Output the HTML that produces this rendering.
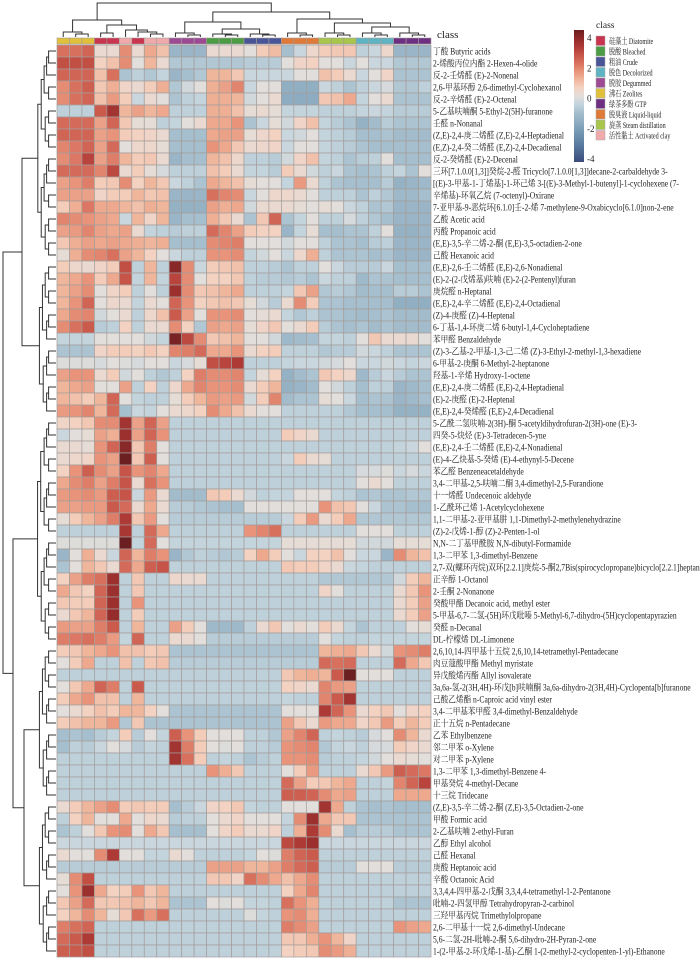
<!DOCTYPE html>
<html><head><meta charset="utf-8">
<style>
html,body{margin:0;padding:0;background:#fff;width:700px;height:962px;overflow:hidden}
svg{display:block}
text{font-family:"Liberation Serif","Noto Serif CJK SC",serif;fill:#222}
</style></head>
<body>
<svg id="chart" width="700" height="962" viewBox="0 0 700 962">
<g id="coldendro" stroke="#333" stroke-width="1" fill="none"></g>
<g id="rowdendro" stroke="#333" stroke-width="1" fill="none"></g>
<g id="classbar"></g>
<g id="cells"></g>
<g id="rowlabels"></g>
<text x="437" y="38" font-size="11">class</text>
<g id="legend"></g>
</svg>
<script>
const rowLabels = [
"丁酸 Butyric acids","2-烯酸丙位内酯 2-Hexen-4-olide","反-2-壬烯醛 (E)-2-Nonenal","2,6-甲基环醇 2,6-dimethyl-Cyclohexanol","反-2-辛烯醛 (E)-2-Octenal","5-乙基呋喃酮 5-Ethyl-2(5H)-furanone","壬醛 n-Nonanal","(Z,E)-2,4-庚二烯醛 (Z,E)-2,4-Heptadienal","(E,Z)-2,4-癸二烯醛 (E,Z)-2,4-Decadienal","反-2-癸烯醛 (E)-2-Decenal",
"三环[7.1.0.0[1,3]]癸烷-2-醛 Tricyclo[7.1.0.0[1,3]]decane-2-carbaldehyde 3-","[(E)-3-甲基-1-丁烯基]-1-环己烯 3-[(E)-3-Methyl-1-butenyl]-1-cyclohexene (7-","辛烯基)-环氧乙烷 (7-octenyl)-Oxirane","7-亚甲基-9-恶烷环[6.1.0]壬-2-烯 7-methylene-9-Oxabicyclo[6.1.0]non-2-ene","乙酸 Acetic acid","丙酸 Propanoic acid","(E,E)-3,5-辛二烯-2-酮 (E,E)-3,5-octadien-2-one","己酸 Hexanoic acid","(E,E)-2,6-壬二烯醛 (E,E)-2,6-Nonadienal","(E)-2-(2-戊烯基)呋喃 (E)-2-(2-Pentenyl)furan",
"庚烷醛 n-Heptanal","(E,E)-2,4-辛二烯醛 (E,E)-2,4-Octadienal","(Z)-4-庚醛 (Z)-4-Heptenal","6-丁基-1,4-环庚二烯 6-butyl-1,4-Cycloheptadiene","苯甲醛 Benzaldehyde","(Z)-3-乙基-2-甲基-1,3-己二烯 (Z)-3-Ethyl-2-methyl-1,3-hexadiene","6-甲基-2-庚酮 6-Methyl-2-heptanone","羟基-1-辛烯 Hydroxy-1-octene","(E,E)-2,4-庚二烯醛 (E,E)-2,4-Heptadienal","(E)-2-庚醛 (E)-2-Heptenal",
"(E,E)-2,4-癸烯醛 (E,E)-2,4-Decadienal","5-乙酰二氢呋喃-2(3H)-酮 5-acetyldihydrofuran-2(3H)-one (E)-3-","四癸-5-炔烃 (E)-3-Tetradecen-5-yne","(E,E)-2,4-壬二烯醛 (E,E)-2,4-Nonadienal","(E)-4-乙炔基-5-癸烯 (E)-4-ethynyl-5-Decene","苯乙醛 Benzeneacetaldehyde","3,4-二甲基-2,5-呋喃二酮 3,4-dimethyl-2,5-Furandione","十一烯醛 Undecenoic aldehyde","1-乙酰环己烯 1-Acetylcyclohexene","1,1-二甲基-2-亚甲基肼 1,1-Dimethyl-2-methylenehydrazine",
"(Z)-2-戊烯-1-醇 (Z)-2-Penten-1-ol","N,N-二丁基甲酰胺 N,N-dibutyl-Formamide","1,3-二甲苯 1,3-dimethyl-Benzene","2,7-双(螺环丙烷)双环[2.2.1]庚烷-5-酮2,7Bis(spirocyclopropane)bicyclo[2.2.1]heptan-5-","正辛醇 1-Octanol","2-壬酮 2-Nonanone","癸酸甲酯 Decanoic acid, methyl ester","5-甲基-6,7-二氢-(5H)环戊吡嗪 5-Methyl-6,7-dihydro-(5H)cyclopentapyrazien","癸醛 n-Decanal","DL-柠檬烯 DL-Limonene",
"2,6,10,14-四甲基十五烷 2,6,10,14-tetramethyl-Pentadecane","肉豆蔻酸甲酯 Methyl myristate","异戊酸烯丙酯 Allyl isovalerate","3a,6a-氢-2(3H,4H)-环戊[b]呋喃酮 3a,6a-dihydro-2(3H,4H)-Cyclopenta[b]furanone","己酸乙烯酯 n-Caproic acid vinyl ester","3,4-二甲基苯甲醛 3,4-dimethyl-Benzaldehyde","正十五烷 n-Pentadecane","乙苯 Ethylbenzene","邻二甲苯 o-Xylene","对二甲苯 p-Xylene",
"1,3-二甲苯 1,3-dimethyl-Benzene 4-","甲基癸烷 4-methyl-Decane","十三烷 Tridecane","(Z,E)-3,5-辛二烯-2-酮 (Z,E)-3,5-Octadien-2-one","甲酸 Formic acid","2-乙基呋喃 2-ethyl-Furan","乙醇 Ethyl alcohol","己醛 Hexanal","庚酸 Heptanoic acid","辛酸 Octanoic Acid",
"3,3,4,4-四甲基-2-戊酮 3,3,4,4-tetramethyl-1-2-Pentanone","吡喃-2-四氢甲醇 Tetrahydropyran-2-carbinol","三羟甲基丙烷 Trimethylolpropane","2,6-二甲基十一烷 2,6-dimethyl-Undecane","5,6-二氢-2H-吡喃-2-酮 5,6-dihydro-2H-Pyran-2-one","1-(2-甲基-2-环戊烯-1-基)-乙酮 1-(2-methyl-2-cyclopenten-1-yl)-Ethanone"];

const colClasses = ["Zeolites","Zeolites","Zeolites","Diatomite","Diatomite","Activated","Diatomite","Activated","Activated","Degummed","Degummed","Degummed","Bleached","Bleached","Bleached","Crude","Crude","Crude","Liquid","Liquid","Liquid","Steam","Steam","Steam","Decolorized","Decolorized","Decolorized","GTP","GTP","GTP"];

const classNames = ["硅藻土 Diatomite","脱酸 Bleached","粗油 Crude","脱色 Decolorized","脱胶 Degummed","沸石 Zeolites","绿茶多酚 GTP","脱臭液 Liquid-liquid","旋蒸 Steam distillation","活性黏土 Activated clay"];
const classKeys = ["Diatomite","Bleached","Crude","Decolorized","Degummed","Zeolites","GTP","Liquid","Steam","Activated"];
const classColors = {Diatomite:"#c9344f",Bleached:"#4c9b45",Crude:"#4a5597",Decolorized:"#5fb4c4",Degummed:"#9c4a94",Zeolites:"#e1c13c",GTP:"#6c2f82",Liquid:"#e07a39",Steam:"#a8c54c",Activated:"#f1aaac"};

const colorTicks = [4,2,0,-2,-4];

const values = [
[2,2,2.2,0.2,0.2,1.6,0.2,1.2,0.8,-1.3,-1.3,-1.3,0.2,0.2,0.2,0,0.6,0.9,-1,-0.4,0.3,0.6,0.7,0.7,-0.6,-0.4,0.3,-1.3,-1.3,-1.3],
[2.6,2.6,2.6,0.5,0.8,1.6,0,1,0.2,-0.8,-0.8,-0.8,-0.8,-0.8,-0.8,-0.7,-0.7,-0.7,0,0.4,0.5,0,0,-0.4,0,-0.4,-0.4,-0.8,-0.8,-0.8],
[2.2,2.2,2.2,0.8,2,-0.9,-0.6,-0.8,-0.5,-1.3,-1,-0.8,1,1,0.7,-0.4,-0.4,-0.4,-0.4,0,0,0.8,0.6,0.2,-0.4,0,0.4,-0.9,-0.9,-0.9],
[1.6,2,2.3,0.7,1.1,0.4,0.2,0.6,1.1,-0.8,-0.3,0,1.1,1.3,1.7,-0.4,0,0,-1.5,-1.5,-1.5,-0.4,-0.6,-0.9,-0.6,-0.4,-0.2,-0.8,-0.8,-0.6],
[1.6,2,2.2,0.8,1.4,0.6,-0.4,0.2,0,-0.9,-0.6,-0.5,1.1,1.1,1,-0.3,0,0.2,-1.6,-1.6,-1.6,0.7,0.8,1.2,-0.5,0,0.2,-0.9,-0.9,-0.9],
[-0.6,-0.6,-0.6,2.4,3.2,1,1.3,1,1.2,-0.6,-0.6,-0.6,1.1,1.1,0.8,0.1,0.2,0.1,-0.5,-0.5,-0.5,-0.6,-0.6,-0.6,-0.5,-0.4,-0.5,-0.7,-0.7,-0.7],
[2.1,2.1,2.1,1.3,2.2,0.7,0.1,0.1,-0.6,-0.5,0,0.2,1.2,1.2,1.5,-0.9,-0.4,0.1,-0.3,0.4,0.8,-0.5,-0.7,-0.9,-1.4,-1.1,-0.7,-0.9,-0.9,-0.9],
[2.2,2.2,2.2,1.3,1.5,0.6,0.5,0.4,0.2,-1,-1,-1,1.2,1.3,1.3,0.1,0.3,0.5,-0.4,-0.3,0,-0.5,-0.6,-0.7,-1,-1,-0.9,-1.1,-1.1,-1.1],
[1.7,1.9,2.2,1.3,2.1,0,0.3,0.3,0.1,-1,-1,-1,1.5,1.2,0.7,0.2,0.3,0.4,-0.4,0,0,-0.5,-0.6,-0.7,-0.9,-1,-1,-1,-1,-1],
[1.6,1.9,2.8,1.3,1.8,1,0.6,0.7,0.2,-1.3,-1,-1,1,0.8,0.3,-0.6,-0.6,-0.7,-0.3,0.4,0.8,-0.5,-0.6,-0.9,-0.7,-0.6,0,-1,-1,-1],
[2.1,2.1,2.1,1.7,2.7,0.2,0.6,0.1,-0.2,-0.6,-0.6,-0.6,0.8,0.6,0.2,-0.5,-0.5,-0.7,0.6,0.2,-0.3,-0.6,-0.4,-0.9,-1,-0.9,-0.6,-0.5,-0.9,0],
[1.3,1.5,1.8,0.6,0.7,1.6,0.5,1,0.7,-0.4,-0.6,-0.9,1.2,1,0.8,0.1,0,0,-0.5,1.4,0.2,-0.6,-0.9,-1,-1,-1,-0.7,-1.4,-1.3,-1.2],
[1.3,1.3,1.3,0.4,0.6,0.6,1,0.7,0.8,-1.3,-1.3,-1.3,2,1.7,1.6,-0.4,0,0.3,0.3,0.2,0,-0.6,-0.6,-0.6,-0.9,-0.6,-0.8,-1.2,-1.2,-1],
[0.6,1.1,1.9,1.2,1.2,1,0.8,1.1,1,-1.4,-1.4,-1.4,1.3,1.1,1.2,-0.3,0.2,0.2,0.2,0.1,0,0.1,0,-0.4,-0.6,-0.9,-0.8,-1.3,-1.3,-1.3],
[1.7,1.6,1.5,1.3,1.2,-0.4,1,0.4,1,-1.3,-1,-1,1.1,0.7,0.2,-0.9,0.7,2.2,-0.9,-0.5,0,-0.6,-0.6,-0.2,-0.6,-0.8,-1,-1.3,-1.3,-1.3],
[1.3,1.4,1.7,1.3,1.2,1.3,0.2,-0.5,-0.6,-0.7,-0.6,-0.6,2.1,1.7,1.3,0.6,0.5,0.5,-1.3,-0.5,0.1,-1,-1,-0.9,-0.9,-0.6,0,-1.4,-1.4,-1.3],
[0.7,1.1,1.3,1.2,1.3,1.2,1.1,1,1.1,-1,-1,-1,1.6,1.7,1.8,0,0,0,-0.3,0,0,-0.6,-0.9,-0.9,-1,-0.7,-0.6,-1.3,-1.3,-1.3],
[0.1,1.1,1.6,1.7,2,1.3,1,0.5,0,-0.4,-0.6,-0.6,1.5,1.5,1.6,-0.5,-0.3,0,-0.4,0.3,1.1,-0.6,-0.9,-0.9,-0.9,-1,-0.9,-1.3,-1.3,-1.3],
[0.6,0.3,0.2,0.4,0.6,2.6,-0.6,1,-0.6,3.6,1.6,-0.4,0.6,0.7,0.8,-0.6,-0.6,-0.7,-0.9,-0.6,-0.6,0,-0.4,-0.7,-0.7,-0.7,-0.4,-1,-1,-1],
[1,1.2,1.5,0.6,1.2,2.5,-0.5,1,-0.5,2.8,1.6,0,0.5,0.5,0.7,-0.6,-0.7,-0.7,-0.8,-0.7,-0.9,-0.4,-0.6,-0.6,-1.2,-0.9,-0.9,-1,-1,-1],
[1,1.3,1.6,0,0.4,0.6,-0.6,0,-0.6,3.3,1.6,0.7,0.8,1,1.2,-0.6,-0.6,-0.6,-0.5,0.7,1.3,-0.8,-0.7,-0.8,-1.1,-1,-1,-0.7,-0.7,-0.9],
[1,1.5,2.2,0,0.3,0.2,-0.5,0.2,0,2.2,1.5,0.5,0.7,0.8,0.7,0.1,-0.3,-0.7,0.2,1.6,0.6,-0.9,-0.9,-1,-1,-1,-1,-1.5,-1.5,-1.5],
[1.2,1.6,1.7,-0.3,0,0.2,-0.6,0.3,0.8,2.4,1.3,0,1.5,1.5,1.6,0,0.1,0.2,-0.5,-0.8,-0.6,-0.9,-0.9,-1,-1.1,-1,-0.9,-1.1,-1.1,-1.1],
[1.6,2,2.4,-0.7,-0.6,0.5,-0.6,0.2,0.2,1.6,0.5,-0.8,1.3,1.2,1.3,0.1,0.4,0.7,0,0.2,0.6,-0.7,-0.9,-1,-0.9,-1.1,-0.9,-1.1,-1.1,-1.1],
[-0.5,-0.5,-0.5,0,0,0,0,-0.3,-0.5,3.8,2.7,1.6,0.7,0.8,1,0,0,-0.3,-1.2,-1.1,-1,-0.5,-0.5,-0.6,0,0.7,0.2,0.2,0.2,0],
[-0.9,-0.9,-0.9,0.4,0.6,0.6,0.5,0.7,0.5,1.7,1.8,2.1,1.2,1.2,1.5,0.2,0.5,0.6,-0.6,-0.6,-0.6,-0.8,-0.7,-0.7,-0.3,-0.4,-0.6,-0.9,-0.9,-0.9],
[-0.1,-0.1,-0.1,-0.2,0,-0.1,-0.2,0,0,-0.4,-0.2,0.1,2.6,2.8,3,-0.6,-0.6,-0.6,-0.5,-0.4,-0.4,-0.3,-0.2,0,-0.4,-0.4,-0.3,-0.4,-0.5,-0.4],
[1.3,1.5,1.5,0.2,0.6,-0.3,0,-0.6,-0.8,-0.6,0.5,1.8,1.6,1.6,1.7,-0.5,0.1,0.5,-1.4,-1.1,-0.9,0.7,0.5,0.3,-1.2,-0.7,-0.4,-0.7,-0.9,-0.9],
[1,1.2,1.3,0,0,1.3,-0.6,0.5,-0.6,0.3,1.2,1.7,1.5,1.5,1.6,0.2,0.6,1,-1.4,-1.3,-1.1,0,-0.3,-0.6,-1,-0.6,-0.6,-1.3,-1.2,-1],
[1,0.8,0.6,1,2.2,0,-0.5,-0.6,-0.6,0.1,0.6,1,1.4,1.3,1.4,-0.3,0.6,1.7,-1.1,-0.9,-0.9,0.1,0,-0.4,-1,-0.9,-0.9,-1.3,-1.2,-1],
[1.4,1.5,1.7,1,2.1,-1,-0.4,-0.5,0,0.2,0.3,0.5,1.6,1.2,0.8,0.2,0,0,-0.6,-0.6,-0.6,-0.6,-0.6,-0.8,-1,-1,-1,-1.4,-1.4,-1.4],
[0.4,0.5,0.7,1.6,1.6,3.2,1.3,2.2,1.3,-0.6,-0.6,-0.6,-0.6,-0.6,-0.6,-0.6,-0.6,-0.6,-0.6,-0.6,-0.6,-0.6,-0.6,-0.6,-0.6,-0.6,-0.6,-0.6,-0.6,-0.6],
[-0.4,0,0.1,1.3,1.1,3.3,1.3,2.2,1.5,-0.6,-0.6,-0.6,-0.6,-0.6,-0.6,-0.6,-0.6,-0.6,0.6,0.4,0.2,-0.6,-0.6,-0.6,-0.6,-0.6,-0.6,-0.6,-0.6,-0.6],
[0.2,0.2,0.1,1.5,2.2,3.6,0.7,1.8,0,-0.6,-0.6,-0.6,-0.6,-0.6,-0.6,-0.6,-0.6,-0.6,-0.6,-0.6,-0.6,-0.6,-0.6,-0.6,-0.6,-0.6,-0.6,-0.5,-0.4,0],
[0.2,0.3,0.4,1.5,1.3,4,0.7,2.3,0,-0.6,-0.6,-0.6,-0.6,-0.6,-0.6,-0.6,-0.6,-0.6,-0.4,0.6,0.2,0.1,-0.6,-0.6,-0.6,-0.6,-0.6,-0.6,-0.6,-0.6],
[0.5,1.5,2.3,1.6,1.3,2.5,1.5,1.7,1.2,-0.6,-0.6,-0.6,-0.6,-0.6,-0.6,-0.6,-0.6,-0.6,-0.6,-0.6,-0.6,-0.6,-0.6,-0.6,-0.2,-0.2,-0.1,-0.4,-0.2,-0.4],
[1.2,1.6,1.8,1.3,1.8,2.5,0.2,2,1.5,-0.6,-0.6,-0.6,-0.6,-0.6,-0.6,-0.6,-0.6,-0.6,-0.6,-0.6,-0.6,-0.6,-0.6,-0.6,0,0.2,0,-0.6,-0.6,-0.6],
[1.4,1.5,1.6,1.4,2.3,2.5,-0.4,1.4,0.2,-1.1,-1.1,-1.1,0.7,0.6,0.2,-0.3,-0.6,-0.5,-0.5,0,0,0,-0.5,-0.6,-0.9,-0.8,-0.9,-0.9,-0.8,-0.8],
[1.3,1.3,1.4,1.4,2.4,2.1,0.2,1.2,0.2,-0.7,-0.7,-0.8,-0.9,-1,-1,0,0,0,0,0,0,1.5,0.8,0.7,0,-0.4,-0.9,-0.9,-1,-1],
[0.1,0.6,1,1.3,1.8,3,0.7,1.4,0,-0.7,-0.7,-0.7,-0.7,-0.7,-0.7,-0.7,-0.7,-0.7,-0.4,0.6,1.4,0.2,0.6,1.2,-0.8,-0.8,-0.8,-0.8,-0.8,-0.8],
[-0.6,-0.6,-0.6,-0.6,-0.6,3.1,-0.6,2.1,1.2,-0.6,-0.6,-0.6,-0.6,-0.6,-0.6,1.5,1.7,2,-0.6,-0.6,-0.6,-0.6,-0.6,-0.6,0,0,0,-0.6,-0.6,-0.6],
[-0.1,-0.1,-0.1,-0.1,-0.1,4.2,-0.5,2.1,0,-0.5,-0.5,-0.5,-0.5,-0.5,-0.5,-0.5,-0.5,-0.5,0.1,0.1,0.1,0.1,0.1,0.1,-0.3,-0.3,-0.3,0.1,0.1,0.1],
[-1.3,0,1.1,0.2,-0.4,2.2,1,1.8,1.5,-1.3,-0.8,-0.6,-0.7,-0.8,-0.7,0.5,1.2,0.6,0,-0.4,0.5,0.5,0.8,0,-0.4,-0.4,-1.3,1.6,1,0.8],
[-0.9,0,1,0.7,0.2,2.1,1.2,2.3,2.5,-0.6,-0.6,-0.6,-0.6,-0.6,-0.6,-0.6,-0.6,-0.6,0.7,0.6,0.6,0.4,0.2,-0.4,-0.5,-0.6,-0.6,-0.6,-0.6,-0.6],
[0.5,1.3,1.8,2,3.3,-0.6,0.7,-0.6,-0.6,0.3,0.2,0.2,-0.6,-0.6,-0.6,-0.6,-0.6,-0.6,-0.6,-0.6,-0.6,-0.8,-0.8,-0.8,-0.8,-0.8,-0.8,-0.3,0.6,1],
[1.2,0.7,0.5,2.2,3.3,-0.6,0.7,-0.6,-0.6,-0.6,-0.6,-0.6,-0.6,-0.6,-0.6,-0.6,-0.6,-0.6,-0.6,-0.6,-0.6,0.4,0,-0.6,-0.6,-0.6,-0.6,0.2,0.7,1.5],
[0.7,0.6,0.6,2.2,3.3,-0.6,1.5,-0.6,-0.6,-0.6,-0.6,-0.6,-0.6,-0.6,-0.6,-0.6,-0.6,-0.6,-0.6,-0.6,-0.6,-0.6,-0.6,-0.6,-0.6,-0.6,-0.6,0.2,0.6,1.3],
[0.2,0.7,1,2.2,3.4,-0.6,0.6,-0.6,-0.6,-0.6,-0.6,-0.6,-0.6,-0.6,-0.6,-0.6,-0.6,-0.6,-0.6,-0.6,-0.6,-0.6,-0.6,-0.6,-0.6,-0.6,-0.6,0.2,0.6,1.3],
[1.4,1.3,1.3,1.8,2.4,-0.6,1,-0.6,-0.6,1.3,0.6,0,-1.2,-1.2,-1.2,-0.6,0.2,0.7,0,0.2,0,0.6,0.2,-0.5,-0.9,-0.6,-0.6,-0.6,0,0.1],
[1.8,1.9,2,1.8,1.4,-0.5,2.2,-0.6,-0.6,0.2,0.2,0,-0.7,-0.7,-0.7,-0.7,-0.7,-0.7,-0.7,-0.7,-0.7,0,-0.5,-0.6,-0.6,-0.5,-0.5,-0.5,-0.5,-0.5],
[0.6,0.7,1,1.2,1.5,0.8,0.8,0.6,0.7,-0.9,-0.9,-0.9,-0.9,-0.9,-0.9,-0.9,-0.9,-0.9,-0.9,-0.9,-0.9,1,1.1,1.2,0.7,0.2,-0.3,1.5,1.6,1.8],
[0,0.6,1.2,-0.6,-0.6,0.8,-0.6,0.7,0.8,-0.7,-0.7,-0.7,-0.7,-0.7,-0.7,-0.7,-0.7,-0.7,-0.7,-0.7,-0.7,2.1,2,2.1,-0.6,-0.6,-0.6,2.1,1.2,0.7],
[-0.6,-0.6,-0.6,-0.6,-0.6,-0.6,-0.6,-0.6,-0.6,-0.6,-0.6,-0.6,-0.6,-0.6,-0.6,-0.6,-0.6,-0.6,0.7,1,1.1,1,2.4,4,0,0,0,-0.6,-0.6,-0.6],
[0,0.7,1.2,2.2,1.8,-0.6,2.4,-0.6,-0.6,-0.6,-0.6,-0.6,-0.6,-0.6,-0.6,-0.6,-0.6,-0.6,0.5,0.4,0.2,1.7,1.4,1.3,-0.6,-0.6,-0.6,-0.6,-0.6,-0.6],
[0.6,1.2,1.5,0.8,0.8,-0.6,1,-0.6,-0.6,-0.6,-0.6,-0.6,-0.6,-0.6,-0.6,-0.6,-0.6,-0.6,-0.5,-0.6,-0.6,1.7,2.4,3.2,-0.6,-0.6,-0.6,-0.6,-0.6,-0.6],
[0,0.2,0.5,0.8,0.6,1,1,0.5,0,-0.9,-0.9,-0.9,-0.9,-0.9,-0.9,-0.9,-0.9,-0.9,0,0,0,3,2.2,1.5,0.2,0.5,0.7,0,0.4,0.5],
[0.6,0.8,1,1,1.4,-0.8,0.7,-0.9,-0.9,-0.9,-0.9,-0.9,-0.9,-0.9,-0.9,-0.9,-0.9,-0.9,1.3,0.7,0.2,1.4,1.2,1.2,0.4,0.7,1.4,0.6,1,0.6],
[-1,-0.9,-1,-0.7,-0.5,0.6,-0.7,0,-0.5,2.3,1.5,0.6,0,0,0,-0.6,-0.6,-0.8,1.3,1.7,2.2,-0.6,-0.5,-0.6,-0.7,-0.2,0,1.6,1,0.2],
[-1,-0.6,-0.7,-0.4,0,-0.2,-0.7,-0.5,-0.6,3.2,1.8,0.6,0,-0.1,0,-0.6,-0.6,-0.7,1.5,1.6,1.7,-0.8,-0.5,-0.4,-0.6,-0.2,-0.2,0.6,0.4,0.2],
[-0.6,-0.6,-0.6,-0.6,-0.6,-0.6,-0.6,-0.6,-0.6,3.2,2,0.6,-0.6,-0.5,-0.6,-0.9,-0.7,-0.6,1.5,1.5,1.6,-0.7,-0.6,-0.6,-0.5,-0.3,0,0.2,0.1,0],
[-0.6,-0.6,-0.6,-0.6,-0.6,-0.6,-0.6,-0.6,-0.6,-0.6,-0.6,-0.6,1.5,1.1,0.7,-0.6,-0.6,-0.6,0,0.6,1.4,-0.6,-0.6,-0.6,0.2,0.7,1.4,2.3,2.1,1.9],
[-0.6,-0.6,-0.6,-0.6,-0.6,-0.6,-0.6,-0.6,-0.6,-0.6,-0.6,-0.6,-0.6,-0.6,-0.6,-0.6,-0.6,-0.6,2.1,1.3,0.6,0.7,1,1.2,-0.6,-0.6,-0.5,1.7,2.2,2.8],
[-0.6,-0.6,-0.6,-0.6,-0.6,-0.6,-0.6,-0.6,-0.6,-0.6,-0.6,-0.6,-0.6,-0.6,-0.6,-0.6,-0.6,-0.6,2.3,2.3,2.2,1.6,1.2,1.3,-0.6,-0.6,-0.6,1.2,1.2,1.2],
[0.2,0.6,1,1.3,1.6,0.6,0.7,0.6,0.6,-1,-0.7,-0.4,0.4,0.5,0.7,-0.5,-0.6,-0.6,0,0,0,3.2,1.2,-0.6,-0.9,-1,-0.9,-1,-1,-1],
[-0.6,0.5,1,0,0,1.2,0,0.3,0.2,-0.7,-0.6,-0.6,0,0.2,0.4,0,0,0,-0.5,1.6,3.3,1.2,0.7,0.7,-0.9,-0.9,-0.9,-0.9,-0.9,-0.9],
[-0.9,-0.6,0,0.7,1.5,1.6,0,1.2,0.7,-1,-1,-1,0,0.4,0.6,0.2,0.2,0.4,-0.6,1.1,3,1.6,0.2,-1,-0.7,-0.7,-0.7,-0.9,-0.9,-0.9],
[-0.4,-0.4,-0.4,-0.4,-0.4,-0.4,-0.4,-0.4,-0.4,-0.4,-0.4,-0.4,-0.4,-0.4,-0.4,-0.4,-0.4,-0.4,2.7,3,3.3,-0.4,-0.4,-0.4,-0.4,-0.4,-0.4,-0.4,-0.4,-0.4],
[0.2,0,0,1.6,3,0,0,-0.5,-0.5,0.2,0,-0.6,-0.6,-0.6,-0.6,-0.5,0,-0.1,1.8,2.2,2.4,-0.6,-0.6,-0.6,-0.6,-0.6,-0.6,-0.6,-0.6,-0.6],
[-0.7,-0.7,-0.7,-0.7,-0.7,-0.7,-0.7,-0.7,-0.7,-0.7,-0.7,-0.7,1.3,1.3,1.3,1,1,1.3,1.8,2.1,2.3,-0.7,-0.7,-0.7,0,0,0,-0.7,-0.7,-0.7],
[0.1,1.6,2.6,-0.6,-0.6,-0.6,-0.6,-0.6,-0.6,-0.6,-0.6,-0.6,0.7,0.7,0.4,2,1.6,1.2,0.8,1.2,1.6,-0.6,-0.6,-0.6,-0.6,-0.6,-0.6,-0.6,-0.6,-0.6],
[0,1.5,3.3,1.2,0.5,0.6,1.5,0.7,1,-0.6,-0.6,-0.6,-0.6,-0.6,-0.6,-0.6,-0.6,-0.6,0.5,1.2,1.7,-0.6,-0.6,-0.6,-0.6,-0.6,-0.6,-0.6,-0.6,-0.6],
[0.7,1.3,2.1,0.7,0.7,0.8,1,0.7,1,-0.9,-0.9,-0.9,0,-0.1,0,-0.5,-0.5,-0.6,2,1.5,1.1,-0.6,-0.6,-0.6,-0.6,-0.6,-0.6,-0.9,-0.9,-0.9],
[0.5,1,1.6,1,0.1,0.7,2,1.4,2,-0.6,-0.6,-0.6,-0.6,-0.6,-0.6,-0.1,-0.5,-0.6,1.5,1.6,1.1,-0.6,-0.6,-0.6,-0.6,-0.6,-0.6,-0.6,-0.6,-0.6],
[1.8,2,2.2,-0.6,-0.6,-0.6,-0.6,-0.6,-0.6,-0.6,-0.6,-0.6,-0.6,-0.6,-0.6,-0.6,-0.6,-0.6,1.8,1.6,1.3,-0.6,-0.6,-0.6,-0.6,-0.6,-0.6,1.5,1.3,1.2],
[2.1,2.4,3,-0.6,-0.6,-0.6,-0.6,-0.6,-0.6,-0.6,-0.6,-0.6,-0.6,-0.6,-0.6,-0.6,-0.6,-0.6,0.7,0.7,1.1,1.5,1,0.4,-0.6,-0.6,-0.6,-0.6,-0.6,-0.6],
[2.3,2.4,2.6,-0.6,-0.6,-0.6,-0.6,-0.6,-0.6,-0.6,-0.6,-0.6,-0.6,-0.6,-0.6,-0.6,-0.6,-0.6,0.5,0.6,0.7,1.6,1.4,1.1,-0.6,-0.6,-0.6,-0.6,-0.6,-0.6]
];

const NS = "http://www.w3.org/2000/svg";
const X0 = 57, X1 = 431, Y0 = 45, RH = 12;
const nCols = colClasses.length, nRows = rowLabels.length;
const CW = (X1 - X0) / nCols;
function xCol(i){ return X0 + i * CW; }
function yRow(r){ return Y0 + r * RH; }

const stops = [[-4,[59,74,124]],[-3,[88,122,158]],[-2,[124,159,184]],[-1,[166,191,206]],[-0.5,[196,212,221]],[0,[226,222,219]],[0.5,[244,210,194]],[1,[240,182,156]],[1.5,[232,147,122]],[2,[216,112,94]],[2.5,[198,84,72]],[3,[174,58,54]],[3.5,[143,42,42]],[4,[107,31,32]]];
function color(v){
  v = Math.max(-4, Math.min(4, v));
  for (let i = 0; i < stops.length - 1; i++) {
    const a = stops[i], b = stops[i+1];
    if (v <= b[0]) {
      const t = (v - a[0]) / (b[0] - a[0]);
      const c = a[1].map((x, k) => Math.round(x + (b[1][k] - x) * t));
      return "rgb(" + c.join(",") + ")";
    }
  }
  return "rgb(107,31,32)";
}
function mk(tag, attrs, parent){
  const e = document.createElementNS(NS, tag);
  for (const k in attrs) e.setAttribute(k, attrs[k]);
  parent.appendChild(e);
  return e;
}

const cellsG = document.getElementById("cells");
for (let r = 0; r < nRows; r++) {
  for (let c = 0; c < nCols; c++) {
    const rc = mk("rect", {x: xCol(c), y: yRow(r), width: CW, height: RH, fill: color(values[r][c]), stroke: "#a39d9a", "stroke-width": 0.7}, cellsG);
    
    
  }
}
const cb = document.getElementById("classbar");
for (let c = 0; c < nCols; c++) {
  const rc = mk("rect", {x: xCol(c), y: 38, width: CW, height: 6, fill: classColors[colClasses[c]], stroke: "#a39d9a", "stroke-width": 0.6}, cb);
  
  
}
const rl = document.getElementById("rowlabels");
for (let r = 0; r < nRows; r++) {
  const t = mk("text", {x: 0, y: 0, "font-size": 9.3, transform: "translate(433," + (yRow(r) + 9.5) + ") scale(0.82,1)"}, rl);
  t.textContent = rowLabels[r];
  
  
}
const cd = document.getElementById("coldendro");
function cx(i){ return xCol(i) + CW / 2; }
function link(xa, ya, xb, yb, ytop, g){
  const p = mk("path", {d: "M"+xa+","+ya+"V"+ytop+"H"+xb+"V"+yb}, g);
  
  
  return (xa + xb) / 2;
}
function grp3(i, h1, h2){
  const m = link(cx(i+1), 37, cx(i+2), 37, h1, cd);
  return link(cx(i), 37, m, h1, h2, cd);
}
const gZ = grp3(0, 34, 32);
const d34 = link(cx(3), 37, cx(4), 37, 33, cd);
const a78 = link(cx(7), 37, cx(8), 37, 34, cd);
const a678 = link(cx(6), 37, a78, 34, 32, cd);
const a5678 = link(cx(5), 37, a678, 32, 30, cd);
const gDA = link(d34, 33, a5678, 30, 25, cd);
const gLeft = link(gZ, 32, gDA, 25, 20, cd);
const gDeg = grp3(9, 35, 33);
const gBl = grp3(12, 35, 34);
const gCr = grp3(15, 35, 34);
const gBC = link(gBl, 34, gCr, 34, 29, cd);
const gDBC = link(gDeg, 33, gBC, 29, 22, cd);
const gLi = grp3(18, 35, 33);
const gSt = grp3(21, 35, 33);
const gDe = grp3(24, 35, 33);
const gGT = grp3(27, 35, 33);
const gDG = link(gDe, 33, gGT, 33, 27, cd);
const gSDG = link(gSt, 33, gDG, 27, 23, cd);
const gR2 = link(gLi, 33, gSDG, 23, 19, cd);
const gRight = link(gDBC, 22, gR2, 19, 12, cd);
link(gLeft, 20, gRight, 12, 3, cd);

const rd = document.getElementById("rowdendro");
function ry(r){ return yRow(r) + RH / 2; }
function sub(a, b){
  if (a === b) return {y: ry(a), x: 56};
  const m = Math.floor((a + b) / 2);
  const L = sub(a, m), R = sub(m + 1, b);
  const x = 55 - 3 - 3.4 * Math.log2(b - a + 1);
  return join(L, R, x);
}
function join(L, R, x){
  const p = mk("path", {d: "M"+L.x+","+L.y+"H"+x+"V"+R.y+"H"+R.x}, rd);
  
  
  return {x: x, y: (L.y + R.y) / 2};
}
const c0 = sub(0, 17), c1 = sub(18, 30), c2 = sub(31, 49), c3 = sub(50, 62), c4 = sub(63, 75);
const jA = join(c0, c1, 22);
const jB = join(c3, c4, 24);
const jC = join(c2, jB, 13);
join(jA, jC, 3);

const lg = document.getElementById("legend");
const defs = mk("defs", {}, lg);
const grad = mk("linearGradient", {id: "cbar", x1: 0, y1: 0, x2: 0, y2: 1}, defs);
for (let i = stops.length - 1; i >= 0; i--) {
  mk("stop", {offset: ((4 - stops[i][0]) / 8 * 100) + "%", "stop-color": color(stops[i][0])}, grad);
}
const cbY0 = 30, cbY1 = 162;
const bar = mk("rect", {x: 574, y: cbY0, width: 10, height: cbY1 - cbY0, fill: "url(#cbar)"}, lg);


function yTick(v){ return 38 + (4 - v) / 8 * (159 - 38); }
colorTicks.forEach(v => {
  const t = mk("text", {x: 587, y: yTick(v) + 3, "font-size": 9, "font-family": "Liberation Sans, sans-serif"}, lg);
  t.textContent = v;
  
  
});
const lt = mk("text", {x: 596, y: 28, "font-size": 9.5}, lg);
lt.textContent = "class";


classKeys.forEach((k, i) => {
  const y = 36 + i * 10.5;
  const sw = mk("rect", {x: 596, y: y, width: 9, height: 9.5, fill: classColors[k], stroke: "#aaa", "stroke-width": 0.5}, lg);
  
  
  const t = mk("text", {x: 0, y: 0, "font-size": 8.5, transform: "translate(609," + (y + 8) + ") scale(0.72,1)"}, lg);
  t.textContent = classNames[i];
  
  
});
</script>
</body></html>
